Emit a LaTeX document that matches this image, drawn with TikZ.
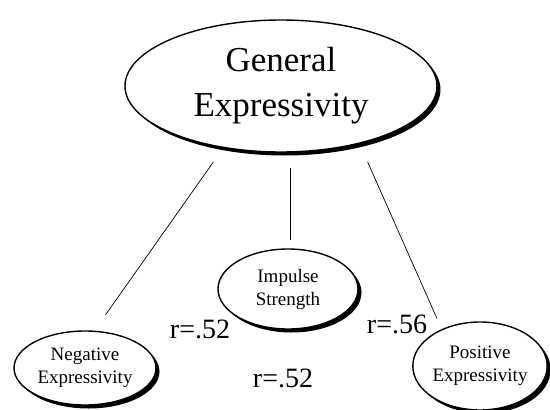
\documentclass[tikz,border=0pt]{standalone}
\usepackage{fontspec}
\setmainfont{Liberation Serif}
\usetikzlibrary{shapes.geometric,shadows}
\begin{document}
\begin{tikzpicture}[x=1pt,y=-1pt,
  bub/.style={ellipse,draw=black,line width=1.4pt,fill=white,inner sep=0pt,align=center,
    drop shadow={shadow xshift=3.5pt,shadow yshift=-3.5pt,fill=black,opacity=1}},
  link/.style={draw=black,line width=0.7pt},
  rlab/.style={font=\fontsize{28}{30}\selectfont,inner sep=0pt}]
\useasboundingbox[fill=white] (0,0) rectangle (550,410);
\node[bub,minimum width=312pt,minimum height=132pt,font=\fontsize{35}{45}\selectfont] (gen) at (281,86) {General\\Expressivity};
\node[bub,minimum width=140pt,minimum height=80pt,font=\fontsize{19}{23}\selectfont] (imp) at (288,289) {Impulse\\Strength};
\node[bub,minimum width=142pt,minimum height=74pt,font=\fontsize{19}{23}\selectfont] (neg) at (85,368) {Negative\\Expressivity};
\node[bub,minimum width=132pt,minimum height=88pt,font=\fontsize{19}{23}\selectfont] (pos) at (480,366) {Positive\\Expressivity};
\draw[link,shorten <=93pt,shorten >=65pt] ([xshift=-14pt]gen.center) -- ([xshift=-17pt]neg.center);
\draw[link,shorten <=82pt,shorten >=49pt] ([xshift=9pt]gen.center) -- ([xshift=2pt]imp.center);
\draw[link,shorten <=83pt,shorten >=52pt] ([xshift=53pt]gen.center) -- ([xshift=-22pt]pos.center);
\node[rlab] (r1) at (200,329) {r=.52};
\node[rlab] (r2) at (397,324) {r=.56};
\node[rlab] (r3) at (283,378) {r=.52};
\end{tikzpicture}
\end{document}
